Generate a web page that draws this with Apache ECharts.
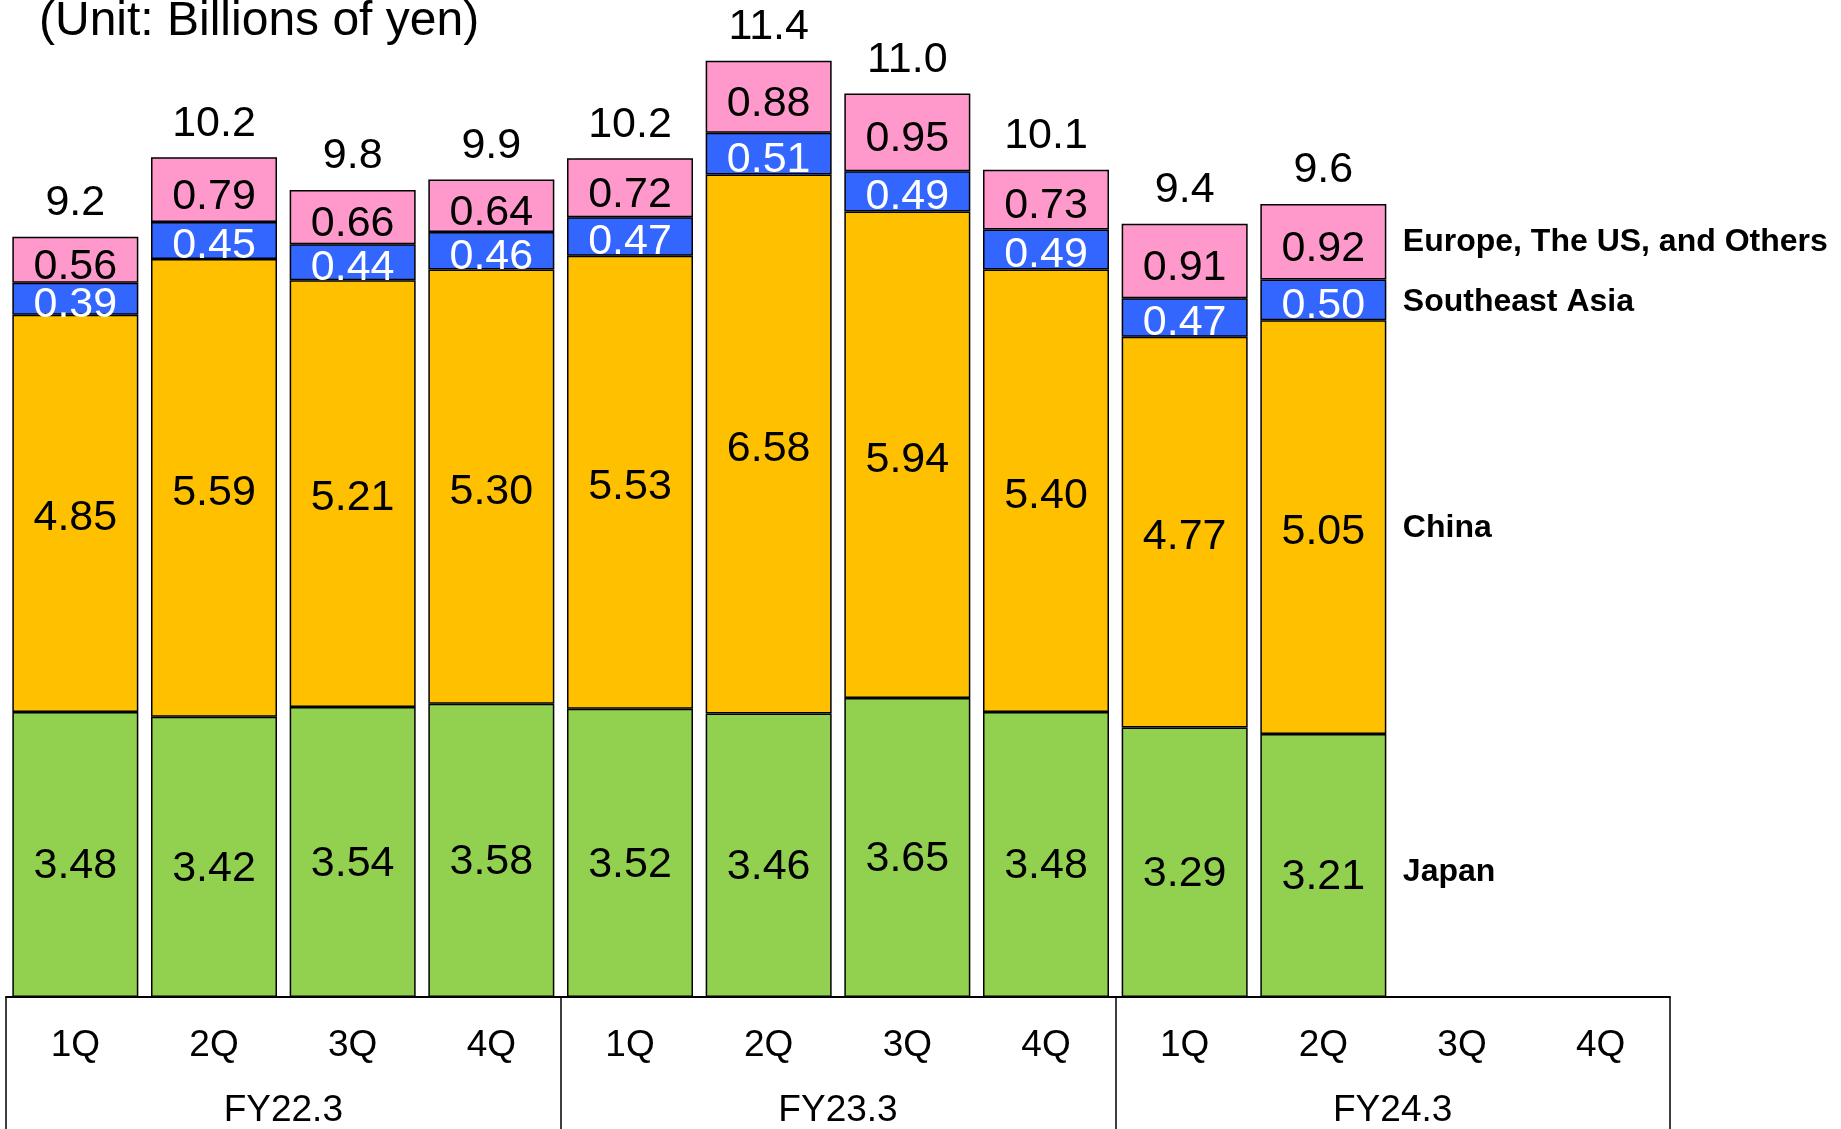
<!DOCTYPE html>
<html>
<head>
<meta charset="utf-8">
<script src="https://cdn.jsdelivr.net/npm/echarts@6/dist/echarts.min.js"></script>
<style>
html,body{margin:0;padding:0;background:#fff;}
#chart{width:1841px;height:1129px;}
</style>
</head>
<body>
<div id="chart"></div>
<script>
const quarters = ['1Q','2Q','3Q','4Q','1Q','2Q','3Q','4Q','1Q','2Q','3Q','4Q'];
const fiscalYears = ['FY22.3','FY23.3','FY24.3'];
const seriesNames = ['Japan','China','Southeast Asia','Europe, The US, and Others'];
const japan    = [3.48,3.42,3.54,3.58,3.52,3.46,3.65,3.48,3.29,3.21,null,null];
const china    = [4.85,5.59,5.21,5.30,5.53,6.58,5.94,5.40,4.77,5.05,null,null];
const seAsia   = [0.39,0.45,0.44,0.46,0.47,0.51,0.49,0.49,0.47,0.50,null,null];
const europeUS = [0.56,0.79,0.66,0.64,0.72,0.88,0.95,0.73,0.91,0.92,null,null];
const totals   = [9.2,10.2,9.8,9.9,10.2,11.4,11.0,10.1,9.4,9.6,null,null];
const unitText = '(Unit: Billions of yen)';

const colors = ['#92D050','#FFC000','#3366FF','#FF99CC'];
const labelColors = ['#000','#000','#fff','#000'];
const labelOffsets = [12, 5, 6, 7];
const nameOffsets = [7, 1, 2, 0];
const FONT = 'Arial, "Liberation Sans", sans-serif';
const stackData = [japan, china, seAsia, europeUS];

// index of the last quarter with data, where the region names are shown
const lastIdx = japan.reduce((a, v, i) => v != null ? i : a, 0);

function midOf(k) {
  let base = 0;
  for (let j = 0; j < k; j++) base += stackData[j][lastIdx];
  return base + stackData[k][lastIdx] / 2;
}

const series = stackData.map((arr, k) => ({
  name: seriesNames[k],
  type: 'bar',
  stack: 'total',
  barWidth: 126,
  data: arr,
  itemStyle: { color: colors[k], borderColor: '#000', borderWidth: 1.5 },
  label: {
    show: true,
    position: 'inside',
    offset: [0, labelOffsets[k]],
    color: labelColors[k],
    fontFamily: FONT,
    fontSize: 43,
    formatter: p => p.value == null ? '' : Number(p.value).toFixed(2)
  },
  emphasis: { disabled: true },
  markPoint: {
    silent: true,
    symbol: 'circle',
    symbolSize: 1,
    itemStyle: { color: 'rgba(0,0,0,0)' },
    label: {
      show: true,
      position: 'right',
      distance: 79,
      offset: [0, nameOffsets[k]],
      color: '#000',
      fontFamily: FONT,
      fontWeight: 'bold',
      fontSize: 32,
      formatter: seriesNames[k]
    },
    data: [{ coord: [lastIdx, midOf(k)] }]
  }
}));

series.push({
  name: 'Total',
  type: 'bar',
  stack: 'total',
  barWidth: 126,
  data: totals.map(t => t == null ? null : 0),
  itemStyle: { color: 'rgba(0,0,0,0)', borderWidth: 0 },
  label: {
    show: true,
    position: 'top',
    distance: 12,
    color: '#000',
    fontFamily: FONT,
    fontSize: 43,
    formatter: p => totals[p.dataIndex] == null ? '' : totals[p.dataIndex].toFixed(1)
  },
  emphasis: { disabled: true }
});

const chart = echarts.init(document.getElementById('chart'), null, { renderer: 'canvas' });
chart.setOption({
  animation: false,
  backgroundColor: '#fff',
  title: {
    text: unitText,
    left: 34,
    top: -7,
    textStyle: { fontFamily: FONT, fontSize: 48, fontWeight: 'normal', color: '#000' }
  },
  grid: { left: 6, right: 171, top: 14, bottom: 130, containLabel: false },
  xAxis: [
    {
      type: 'category',
      data: quarters,
      position: 'bottom',
      axisLine: { show: true, lineStyle: { color: '#000', width: 2 } },
      axisTick: { show: false },
      axisLabel: { interval: 0, margin: 30, fontFamily: FONT, fontSize: 37, color: '#000' }
    },
    {
      type: 'category',
      data: fiscalYears,
      position: 'bottom',
      axisLine: { show: false },
      axisTick: { show: true, length: 140, interval: 0, lineStyle: { color: '#000', width: 1.5 } },
      axisLabel: { interval: 0, margin: 95, fontFamily: FONT, fontSize: 37, color: '#000' }
    }
  ],
  yAxis: { type: 'value', min: 0, max: 12, show: false, splitLine: { show: false } },
  series: series
});
</script>
</body>
</html>
